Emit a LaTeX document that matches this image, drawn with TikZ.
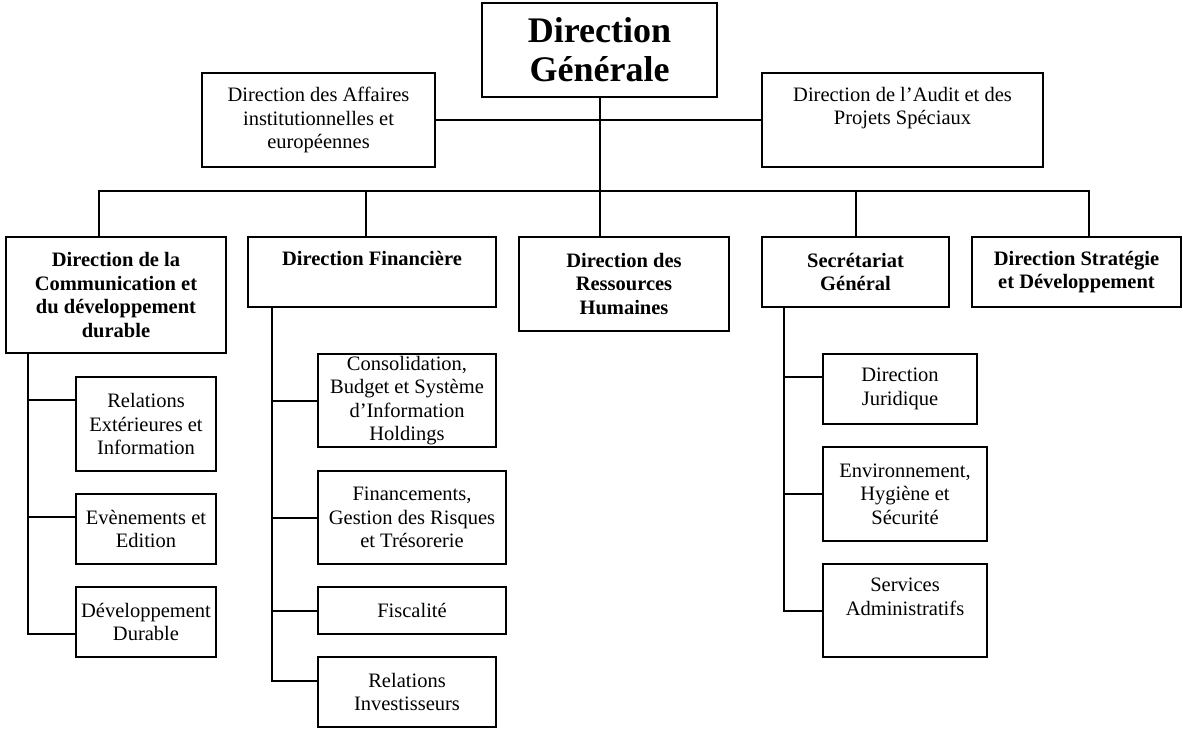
\documentclass[tikz,border=0pt]{standalone}
\usepackage{fontspec}
\setmainfont{Liberation Serif}
\begin{document}
    \begin{tikzpicture}[x=0.5pt, y=-0.5pt,
        box/.style={draw, line width=1pt, inner sep=0pt, align=center, font=\fontsize{10.25}{11.75}\selectfont},
        headbox/.style={box, font=\fontsize{10.25}{11.75}\selectfont\bfseries},
        wh/.style 2 args={minimum width=#1*0.5pt, minimum height=#2*0.5pt},
        link/.style={line width=1pt}]
        \useasboundingbox (0,0) rectangle (1183,729);

        \node[box, wh={235}{94}, font=\fontsize{18}{19.5}\selectfont\bfseries] (dg) at (599.5,50) {Direction\\Générale};
        \node[box, wh={233}{94}] (aff) at (318.5,120) {Direction des Affaires\\institutionnelles et\\européennes};
        \node[box, wh={281}{94}, text depth=14pt] (audit) at (902.5,120) {Direction de l’Audit et des\\Projets Spéciaux};

        \node[headbox, wh={220}{116}] (comm) at (116,295) {Direction de la\\Communication et\\du développement\\durable};
        \node[headbox, wh={248}{70}, text depth=14pt] (fin) at (372,272) {Direction Financière};
        \node[headbox, wh={210}{94}] (rh) at (624,284) {Direction des\\Ressources\\Humaines};
        \node[headbox, wh={187}{70}] (sec) at (855.5,272) {Secrétariat\\Général};
        \node[headbox, wh={209}{70}] (strat) at (1076.5,272) {Direction Stratégie\\et Développement};

        \node[box, wh={140}{94}] (rext) at (146,424) {Relations\\Extérieures et\\Information};
        \node[box, wh={140}{70}] (even) at (146,529) {Evènements et\\Edition};
        \node[box, wh={140}{70}] (ddur) at (146,622) {Développement\\Durable};

        \node[box, wh={178}{93}] (cons) at (407,400.5) {Consolidation,\\Budget et Système\\d’Information\\Holdings};
        \node[box, wh={188}{93}] (fina) at (412,517.5) {Financements,\\Gestion des Risques\\et Trésorerie};
        \node[box, wh={188}{47}] (fisc) at (412,610.5) {Fiscalité};
        \node[box, wh={178}{70}] (rinv) at (407,692) {Relations\\Investisseurs};

        \node[box, wh={154}{70}] (jur) at (900,389) {Direction\\Juridique};
        \node[box, wh={164}{94}] (env) at (905,494) {Environnement,\\Hygiène et\\Sécurité};
        \node[box, wh={164}{93}, text depth=14pt] (serv) at (905,610.5) {Services\\Administratifs};

        \coordinate (bus) at (599.5,191);
        \draw[link] (dg.south) -- (dg.south |- rh.north);
        \draw[link] (aff.east) -- (audit.west);
        \draw[link] ([xshift=-8.5pt]comm.north) |- (bus) -| ([xshift=6pt]strat.north);
        \draw[link] ([xshift=-3pt]fin.north) -- ([xshift=-3pt]fin.north |- bus);
        \draw[link] (sec.north) -- (sec.north |- bus);

        \foreach \n/\s in {rext/12pt, even/6pt, ddur/-6pt}
            \draw[link] ([xshift=11.5pt]comm.south west) |- ([yshift=\s]\n.west);
        \foreach \n/\s in {cons/0pt, fina/0pt, fisc/0pt, rinv/5.5pt}
            \draw[link] ([xshift=12.5pt]fin.south west) |- ([yshift=\s]\n.west);
        \foreach \n/\s in {jur/6pt, env/0pt, serv/0pt}
            \draw[link] ([xshift=11.5pt]sec.south west) |- ([yshift=\s]\n.west);
    \end{tikzpicture}
\end{document}
